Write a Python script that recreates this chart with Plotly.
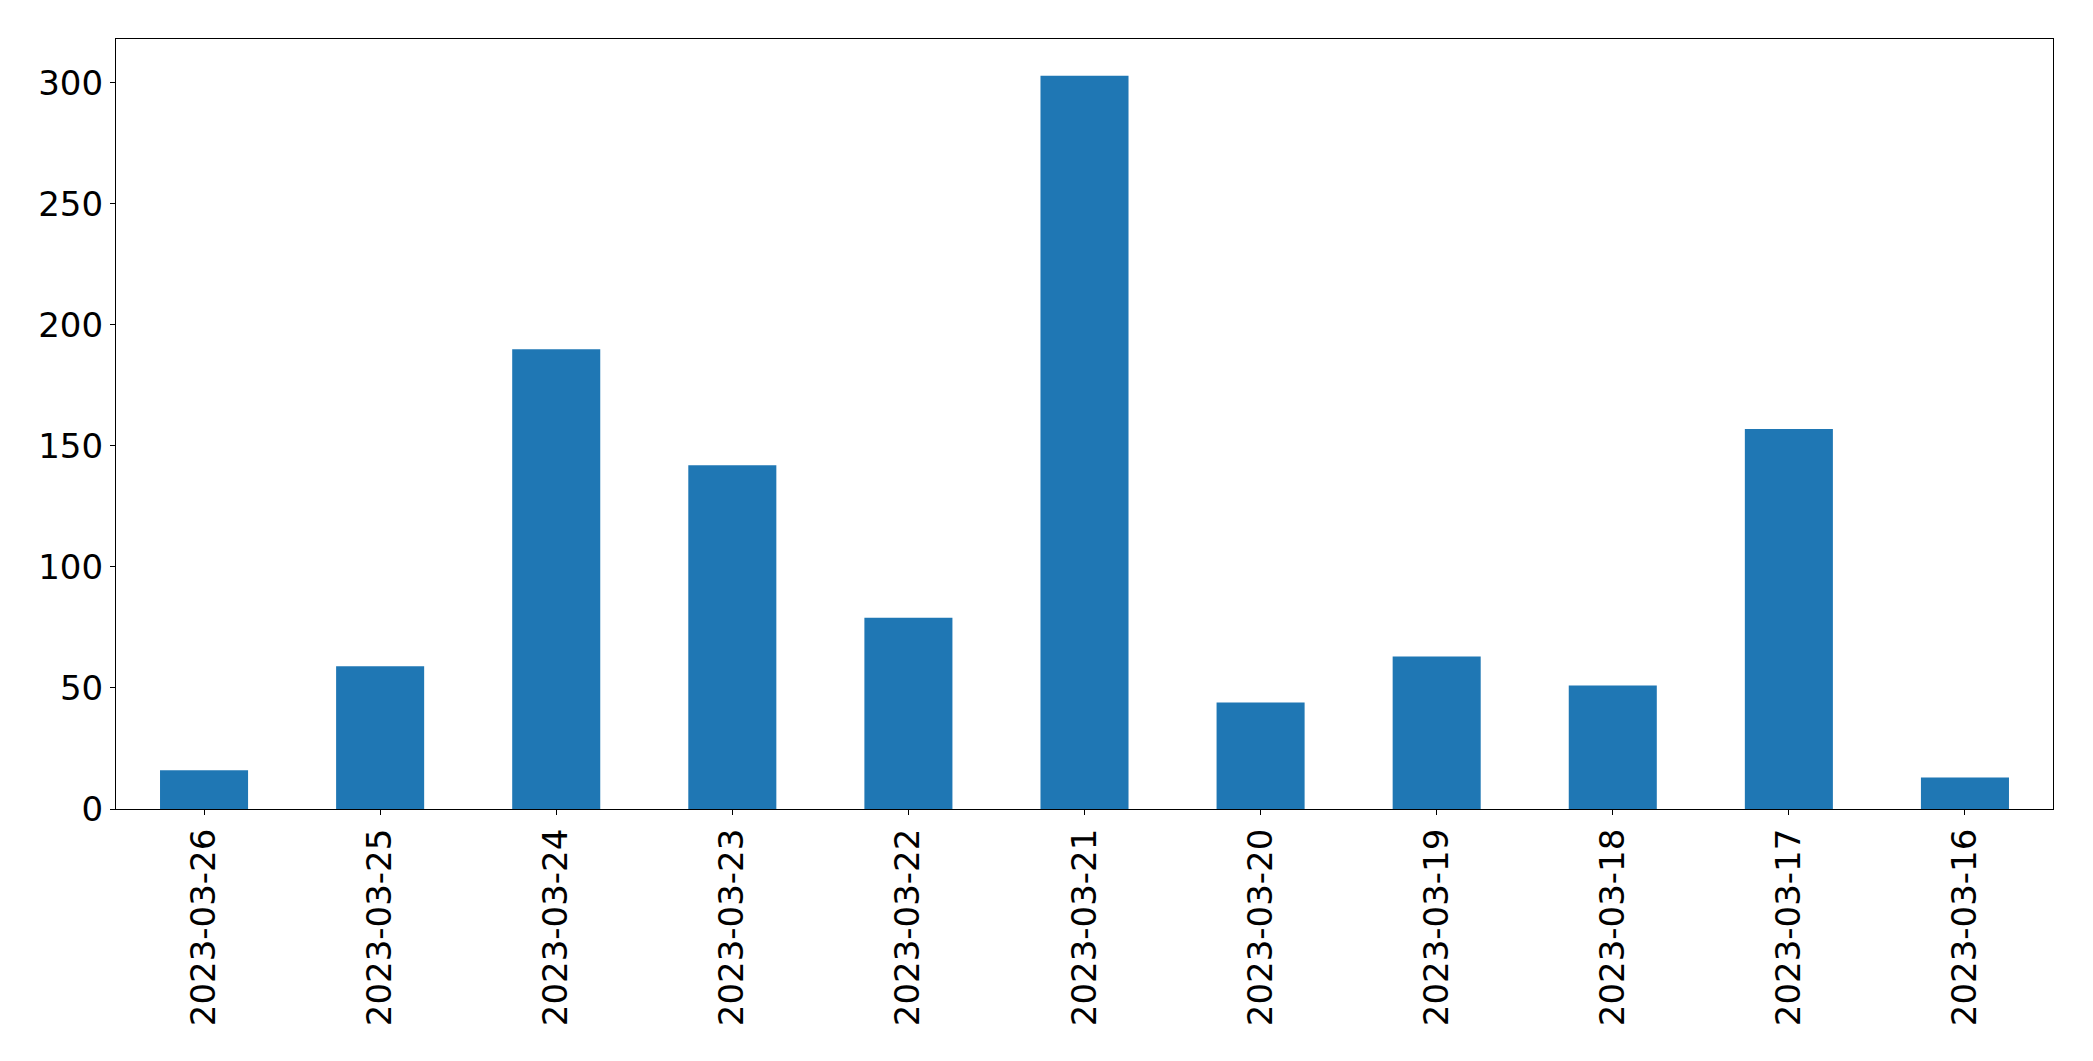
import plotly.graph_objects as go

dates = ["2023-03-26", "2023-03-25", "2023-03-24", "2023-03-23", "2023-03-22",
         "2023-03-21", "2023-03-20", "2023-03-19", "2023-03-18", "2023-03-17",
         "2023-03-16"]
counts = [16, 59, 190, 142, 79, 303, 44, 63, 51, 157, 13]
y_ticks = [0, 50, 100, 150, 200, 250, 300]

fig = go.Figure(
    go.Bar(x=dates, y=counts, width=0.5, marker=dict(color="#1f77b4", line=dict(width=0)))
)

axis_common = dict(
    showline=True, linecolor="black", linewidth=1.1, mirror=True,
    ticks="outside", ticklen=5, tickwidth=1.1, tickcolor="black",
    showgrid=False, zeroline=False,
    tickfont=dict(family="DejaVu Sans", size=34, color="black"),
)

fig.update_layout(
    width=2085, height=1053,
    margin=dict(l=108, r=40, t=31, b=252),
    paper_bgcolor="white", plot_bgcolor="white",
    showlegend=False,
    xaxis=dict(type="category", range=[-0.5, len(dates) - 0.5], tickangle=-90, **axis_common),
    yaxis=dict(range=[0, max(counts) * 1.05], tickvals=y_ticks, **axis_common),
)

fig.write_html("out.html")
